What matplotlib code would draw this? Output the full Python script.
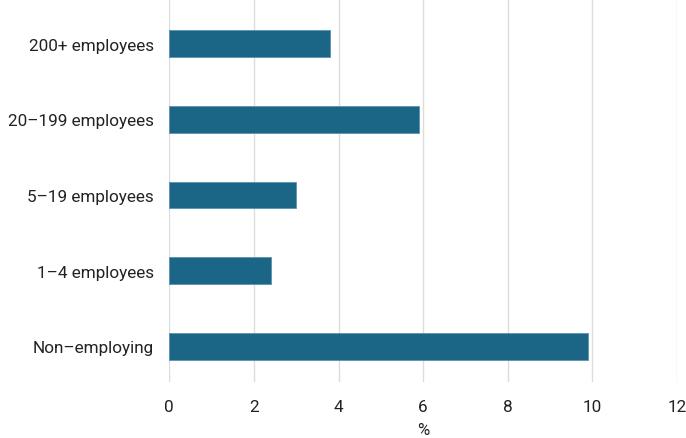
import matplotlib
matplotlib.use('Agg')
import matplotlib.pyplot as plt

# business size categories, bottom to top
categories = ['Non–employing', '1–4 employees', '5–19 employees',
              '20–199 employees', '200+ employees']
values = [9.9, 2.4, 3.0, 5.9, 3.8]
x_ticks = [0, 2, 4, 6, 8, 10, 12]

plt.rcParams['font.family'] = ['Roboto', 'DejaVu Sans']

fig = plt.figure(figsize=(6.86, 4.39), dpi=100)
ax = fig.add_axes([0.2468, 0.1276, 0.7400, 0.8724])

ax.barh(range(len(categories)), values, height=0.35, color='#1b6687',
        edgecolor='#5a93ad', linewidth=0.6, zorder=3)

ax.set_xlim(0, 12)
ax.set_ylim(-0.47, 4.59)
ax.set_xticks(x_ticks)
ax.set_yticks(range(len(categories)))
ax.set_yticklabels(categories)

ax.grid(axis='x', color='#dcdcdc', linewidth=1.0, zorder=0)
ax.grid(axis='y', visible=False)
for s in ax.spines.values():
    s.set_visible(False)
ax.tick_params(axis='both', length=0, labelsize=12.3, labelcolor='#222222')
ax.tick_params(axis='y', pad=11)
ax.tick_params(axis='x', pad=12)

ax.set_xlabel('%', fontsize=12, color='#222222', labelpad=6)

fig.savefig('out.png', dpi=100)
